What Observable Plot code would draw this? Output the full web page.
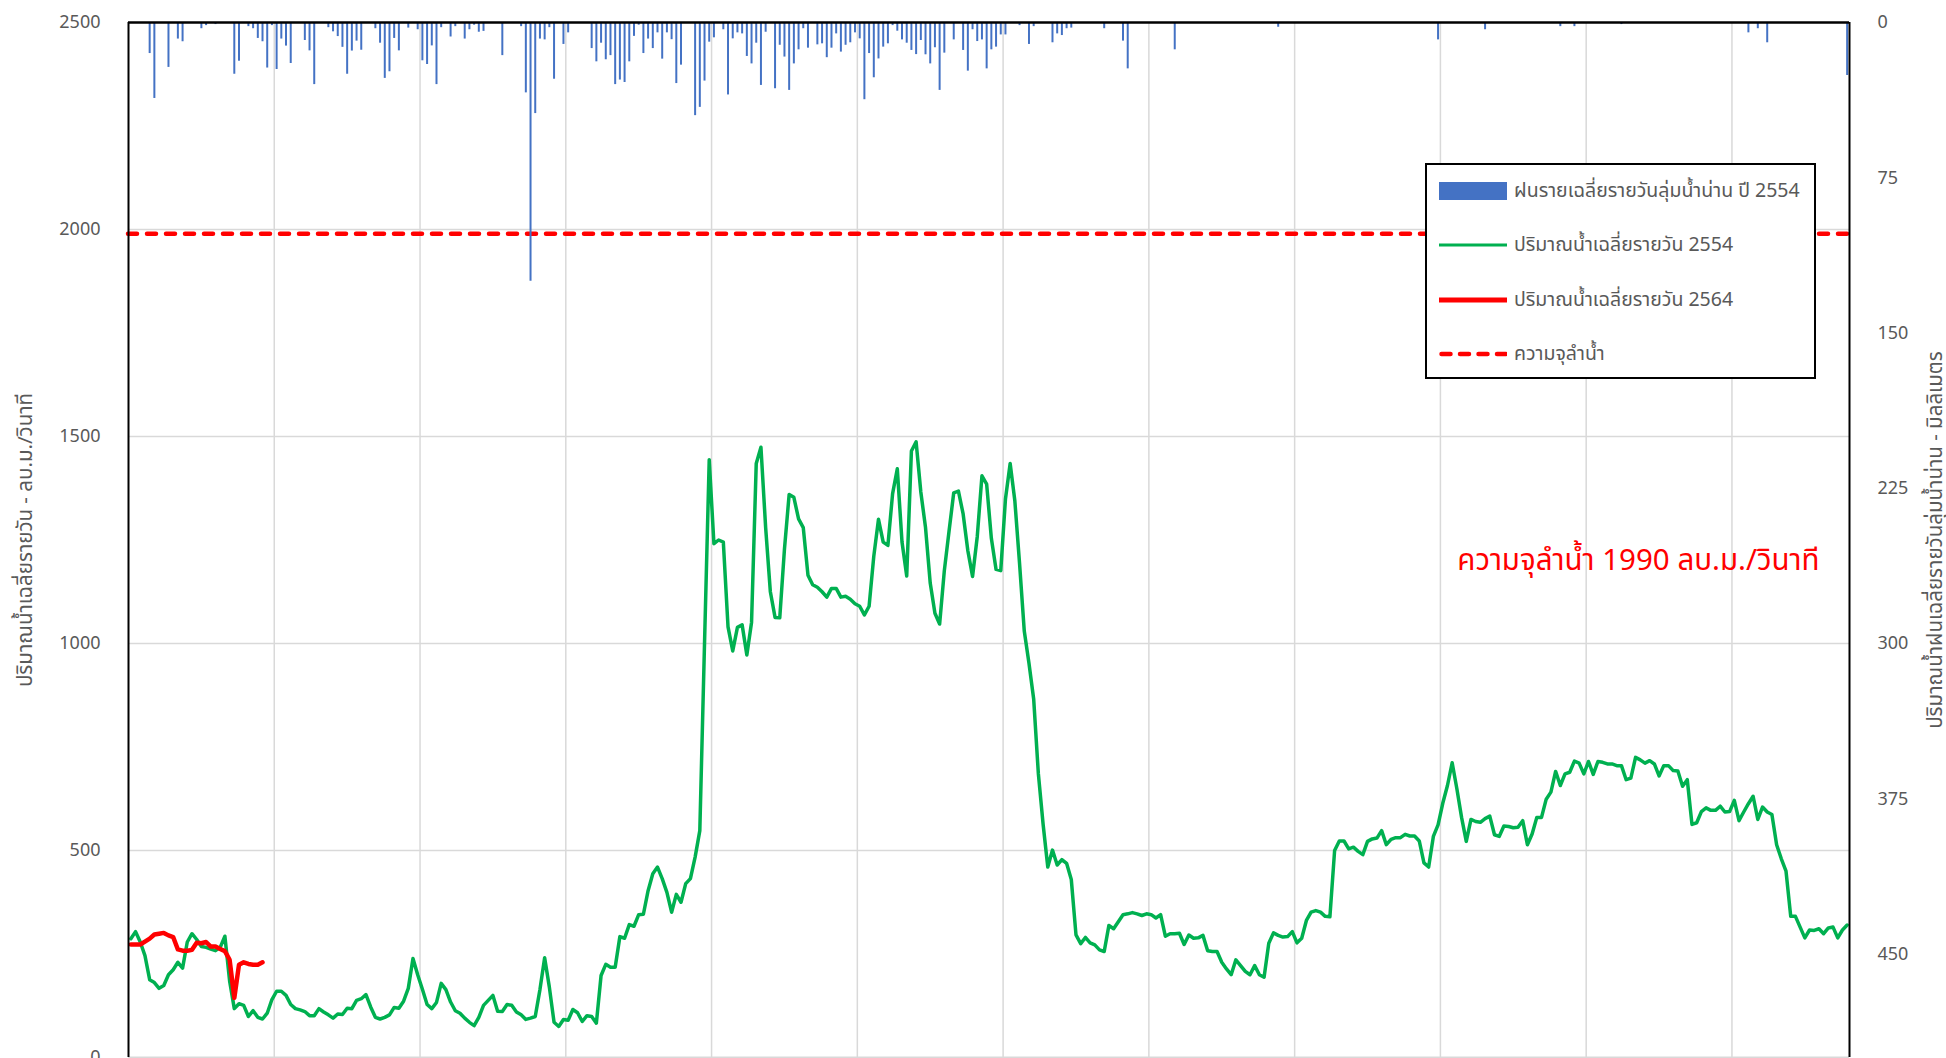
<!DOCTYPE html>
<html><head><meta charset="utf-8">
<script src="https://cdn.jsdelivr.net/npm/d3@7"></script>
<script src="https://cdn.jsdelivr.net/npm/@observablehq/plot@0.6"></script>
<style>
body{margin:0;background:#fff;}
#wrap{position:relative;width:1946px;height:1058px;overflow:hidden;font-family:"Noto Sans Thai","Noto Sans","DejaVu Sans",sans-serif;}
#legend{position:absolute;left:1425px;top:163px;width:387px;height:212px;border:2px solid #000;background:#fff;box-sizing:content-box;}
.item{position:absolute;left:12px;height:30px;display:flex;align-items:center;font-size:19.5px;color:#595959;white-space:nowrap;}
.item svg{margin-right:7px;}
</style></head>
<body><div id="wrap"><div id="chart"></div><div id="legend"></div></div>
<script>
// daily mean discharge, Nan river, year 2554 (m3/s), one value per day
const flow2554 = [
287,304,279,246,188,181,167,174,200,212,
230,216,279,299,285,268,266,262,258,266,
293,185,118,130,126,99,113,97,93,107,
140,160,160,150,128,118,115,111,101,101,
118,110,103,95,105,104,119,118,138,142,
152,122,97,93,97,103,121,119,136,167,
239,200,165,128,118,133,179,164,134,113,
107,95,85,77,97,126,138,150,112,111,
128,126,110,103,92,95,99,164,241,170,
85,75,92,90,116,108,87,101,99,83,
198,225,218,218,292,288,321,317,345,346,
403,444,460,432,399,351,394,375,420,432,
484,548,1000,1444,1241,1250,1245,1040,982,1039,
1045,972,1051,1435,1474,1280,1125,1063,1062,1228,
1360,1353,1301,1280,1165,1142,1136,1125,1112,1133,
1133,1112,1114,1107,1096,1090,1069,1090,1211,1300,
1245,1237,1362,1422,1245,1163,1465,1487,1366,1280,
1146,1073,1047,1176,1271,1364,1368,1313,1224,1162,
1258,1405,1385,1254,1179,1176,1349,1435,1344,1193,
1030,952,866,685,564,460,501,465,478,469,
430,296,275,290,277,272,260,256,319,311,
328,345,347,350,347,343,347,345,337,345,
293,299,299,300,273,296,288,289,295,258,
256,256,230,214,200,236,222,208,200,222,
200,194,276,301,295,291,292,304,277,288,
331,351,355,351,341,340,500,523,523,504,
508,498,490,522,528,530,548,514,527,531,
531,539,535,535,523,470,460,534,562,614,
657,712,649,580,522,575,570,568,577,583,
538,534,559,558,555,556,572,514,540,580,
580,624,641,691,657,685,689,716,711,685,
715,684,715,713,709,709,705,705,671,675,
725,719,711,717,709,680,705,705,693,692,
655,671,563,567,594,603,597,597,607,593,
594,621,572,593,613,631,575,605,593,587,
514,480,450,341,341,315,289,308,307,311,
299,313,315,289,308,320
];
// daily mean discharge, year 2564 (m3/s)
const flow2564 = [273,273,273,280,287,297,299,301,295,291,261,258,258,260,277,276,279,268,268,262,257,236,144,224,230,226,224,224,230];
// daily basin rainfall 2554 (mm): day index and amount
const rainDay = [4,5,8,10,11,15,16,18,22,23,25,26,27,28,29,30,31,32,33,34,37,38,39,42,43,44,45,46,47,48,49,50,52,53,54,55,56,57,59,61,62,63,64,65,66,68,69,71,72,73,74,75,79,83,84,85,86,87,88,89,90,92,93,98,99,100,101,102,103,104,105,106,107,108,109,110,111,112,113,114,115,116,117,120,121,122,123,124,126,127,128,129,130,131,132,133,134,135,137,138,139,140,141,142,143,144,146,147,148,149,150,151,152,153,154,155,156,157,158,159,160,161,162,163,164,165,166,167,168,169,170,171,172,173,175,177,178,179,180,181,182,183,184,185,186,189,191,192,196,197,198,199,200,207,211,212,222,244,278,288,304,307,317,344,346,348,365];
const rainMm = [15,36.7,21.7,8,9.3,3,1.5,1,25,18.7,2,3,7.7,9.3,22,1.5,22.7,8,11.4,19.8,8.7,13.7,30,2.5,4.5,6.8,12,25,13.8,9,13.4,0.5,3,10,27,23.8,7.7,13.7,2.7,3.5,18.5,20.3,11.3,30,2.5,7,2,8,3.5,1.3,4.7,4.3,16,2,34,125,44,8,8.4,2.5,27.4,10.6,5,12.6,19,10,18,16,30,27.8,29,19,6.7,1.3,15,8,12.6,5,17.7,5,8.3,29.5,20.6,45,41,28.3,9.5,7.4,3.5,35,7.9,5,5.5,16.4,20,10,30.4,4.7,32,11,16.7,32.8,20,13.2,3,12.4,10.8,10.3,17,12.4,5.5,14.3,11,9.8,5,7.9,37.3,15,26.7,17.6,11.9,10.3,1.5,4.2,8.4,10,13.5,15.5,8.7,15.6,20,12.2,32.8,14.8,8.4,13.5,23.5,3.5,9.2,8.4,22.4,13.2,11.9,6,6,1.5,10.6,2,9.8,5.5,6.3,3,2.7,3,9,22.4,13.2,2.3,8.4,3.5,2,2,1,5,3,9.8,25.6];
const capacity = 1990;
const leftTicks = [0,500,1000,1500,2000,2500];
const rightTicks = [0,75,150,225,300,375,450];
const monthGrid = [1,2,3,4,5,6,7,8,9,10,11];
const legendNames = ["ฝนรายเฉลี่ยรายวันลุ่มน้ำน่าน ปี 2554","ปริมาณน้ำเฉลี่ยรายวัน 2554","ปริมาณน้ำเฉลี่ยรายวัน 2564","ความจุลำน้ำ"];
const leftTitle = "ปริมาณน้ำเฉลี่ยรายวัน - ลบ.ม./วินาที";
const rightTitle = "ปริมาณน้ำฝนเฉลี่ยรายวันลุ่มน้ำน่าน - มิลลิเมตร";
const note = "ความจุลำน้ำ 1990 ลบ.ม./วินาที";

// right axis (rain, reversed, 0..500 mm) mapped onto the left scale 0..2500
const rainMax = 500, yMax = 2500;
const rainToY = r => yMax - r * yMax / rainMax;

const d54 = flow2554.map((v,i)=>({day:i, v}));
const d64 = flow2564.map((v,i)=>({day:i, v}));
const rain = rainDay.map((d,i)=>({day:d, mm:rainMm[i]}));
const gridDays = monthGrid.map(k => k*31 - 0.5);

const font = '"Noto Sans Thai","Noto Sans","DejaVu Sans",sans-serif';
const chart = Plot.plot({
  width: 1946, height: 1058,
  marginLeft: 128, marginRight: 97, marginTop: 22, marginBottom: 1,
  x: {domain: [-0.5, 365.5], axis: null},
  y: {domain: [0, yMax], axis: null},
  style: {fontFamily: font, fontSize: "18px", color: "#595959", background: "#fff", overflow: "visible"},
  marks: [
    Plot.gridX(gridDays, {stroke: "#d9d9d9", strokeOpacity: 1, strokeWidth: 1.5}),
    Plot.gridY([500,1000,1500,2000], {stroke: "#d9d9d9", strokeOpacity: 1, strokeWidth: 1.5}),
    Plot.ruleY([0], {stroke: "#d9d9d9", strokeWidth: 2}),
    Plot.ruleY([capacity], {stroke: "#ff0000", strokeWidth: 4.5, strokeDasharray: "9,10", strokeLinecap: "round"}),
    Plot.ruleX(rain, {x: "day", y1: yMax, y2: d => rainToY(d.mm), stroke: "#4472C4", strokeWidth: 2}),
    Plot.line(d54, {x: "day", y: "v", stroke: "#00B050", strokeWidth: 3.5}),
    Plot.line(d64, {x: "day", y: "v", stroke: "#ff0000", strokeWidth: 4.5}),
    Plot.ruleX([-0.5, 365.5], {stroke: "#000", strokeWidth: 2}),
    Plot.ruleY([yMax], {stroke: "#000", strokeWidth: 2.5}),
    Plot.axisY(leftTicks, {anchor: "left", tickSize: 0, tickPadding: 28, label: null, fill: "#595959", tickFormat: d3.format("d")}),
    Plot.axisY(rightTicks.map(rainToY), {anchor: "right", tickSize: 0, tickPadding: 28, label: null, fill: "#595959",
      tickFormat: v => String(Math.round((yMax - v) * rainMax / yMax))}),
    Plot.text([leftTitle], {frameAnchor: "left", dx: -103, rotate: -90, textAnchor: "middle", fontSize: 20.5, fill: "#595959"}),
    Plot.text([rightTitle], {frameAnchor: "right", dx: 86, rotate: -90, textAnchor: "middle", fontSize: 20.5, fill: "#595959"}),
    Plot.text([note], {x: 320.6, y: 1200, fontSize: 29.5, fill: "#ff0000"})
  ]
});
document.getElementById("chart").appendChild(chart);

// legend
const lg = document.getElementById("legend");
const syms = [
  '<svg width="68" height="20"><rect x="0" y="1" width="68" height="18" fill="#4472C4"/></svg>',
  '<svg width="68" height="20"><line x1="0" x2="68" y1="10" y2="10" stroke="#00B050" stroke-width="3"/></svg>',
  '<svg width="68" height="20"><line x1="0" x2="68" y1="10" y2="10" stroke="#ff0000" stroke-width="5"/></svg>',
  '<svg width="68" height="20"><line x1="2.5" x2="68" y1="10" y2="10" stroke="#ff0000" stroke-width="4.5" stroke-dasharray="9,9.5" stroke-linecap="round"/></svg>'
];
const ys = [11, 65, 120, 174];
legendNames.forEach((n,i)=>{
  const d = document.createElement("div");
  d.className = "item";
  d.style.top = ys[i] + "px";
  d.innerHTML = syms[i] + "<span>" + n + "</span>";
  lg.appendChild(d);
});
</script>
</body></html>
